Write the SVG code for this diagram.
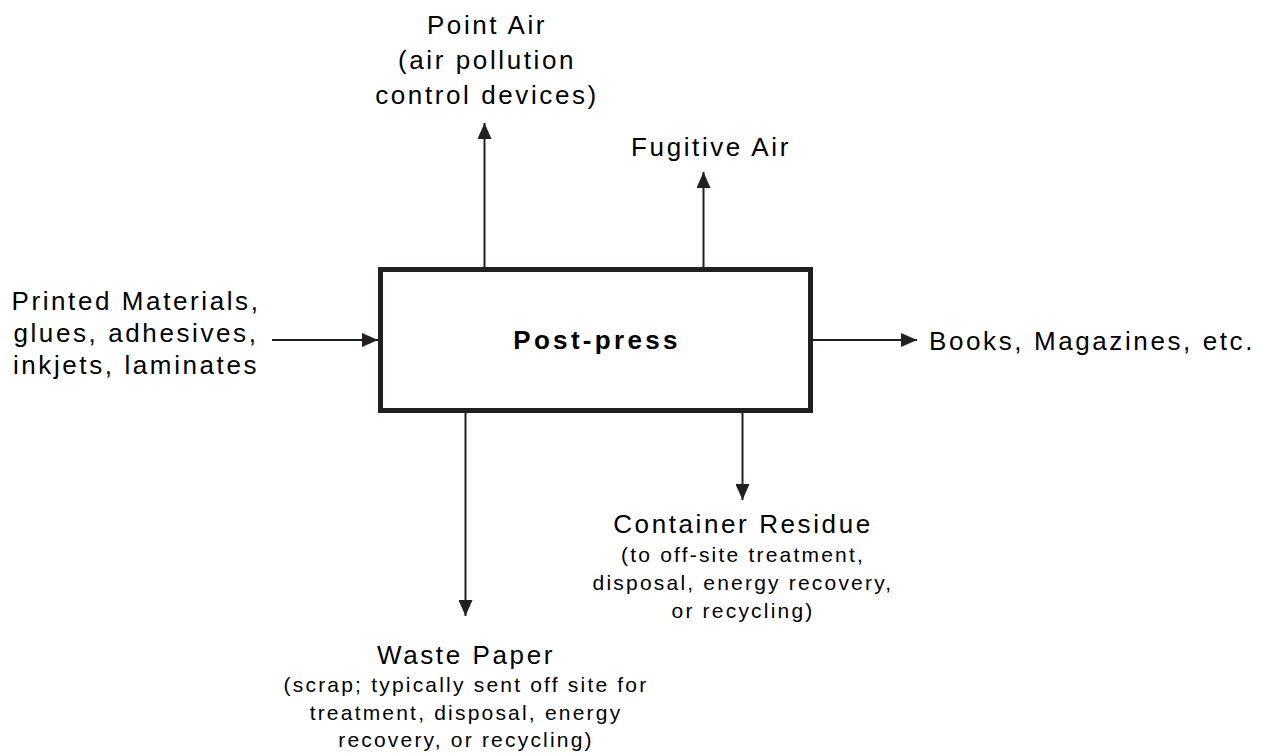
<svg xmlns="http://www.w3.org/2000/svg" width="1270" height="756" viewBox="0 0 1270 756">
<style>
.t{font-family:"Liberation Sans",Arial,sans-serif;font-size:26px;letter-spacing:2.6px;fill:#000;text-anchor:middle}
.s{font-family:"Liberation Sans",Arial,sans-serif;font-size:21px;letter-spacing:2.2px;fill:#000;text-anchor:middle}
.b{font-family:"Liberation Sans",Arial,sans-serif;font-size:26px;font-weight:bold;letter-spacing:3.3px;fill:#000;text-anchor:middle}
.c{stroke:#231f20;stroke-width:2;fill:none}
</style>
<defs>
<marker id="ah" markerWidth="16" markerHeight="14" refX="16" refY="7" orient="auto" markerUnits="userSpaceOnUse">
<path d="M0,0 L16,7 L0,14 Z" fill="#231f20"/>
</marker>
</defs>
<rect width="1270" height="756" fill="#fff"/>
<g id="connectors">
<line class="c" x1="484.5" y1="267" x2="484.5" y2="123" marker-end="url(#ah)"/>
<line class="c" x1="703.5" y1="267" x2="703.5" y2="172" marker-end="url(#ah)"/>
<line class="c" x1="272" y1="340" x2="378" y2="340" marker-end="url(#ah)"/>
<line class="c" x1="813" y1="340" x2="917" y2="340" marker-end="url(#ah)"/>
<line class="c" x1="465.5" y1="413" x2="465.5" y2="616" marker-end="url(#ah)"/>
<line class="c" x1="742.5" y1="413" x2="742.5" y2="500" marker-end="url(#ah)"/>
</g>
<g id="postpress">
<rect x="380.5" y="269.5" width="430" height="141" fill="#fff" stroke="#231f20" stroke-width="5"/>
<text class="b" x="597" y="349">Post-press</text>
</g>
<g id="point-air">
<text class="t" x="487" y="34">Point Air</text>
<text class="t" x="487" y="69">(air pollution</text>
<text class="t" x="487" y="104">control devices)</text>
</g>
<g id="fugitive-air">
<text class="t" x="711" y="156">Fugitive Air</text>
</g>
<g id="inputs">
<text class="t" x="136" y="310">Printed Materials,</text>
<text class="t" x="136" y="342">glues, adhesives,</text>
<text class="t" x="136" y="374">inkjets, laminates</text>
</g>
<g id="products">
<text class="t" x="929" y="350" style="text-anchor:start">Books, Magazines, etc.</text>
</g>
<g id="container-residue">
<text class="t" x="743" y="533">Container Residue</text>
<text class="s" x="743" y="562">(to off-site treatment,</text>
<text class="s" x="743" y="590">disposal, energy recovery,</text>
<text class="s" x="743" y="618">or recycling)</text>
</g>
<g id="waste-paper">
<text class="t" x="466" y="664">Waste Paper</text>
<text class="s" x="466" y="692">(scrap; typically sent off site for</text>
<text class="s" x="466" y="720">treatment, disposal, energy</text>
<text class="s" x="466" y="747">recovery, or recycling)</text>
</g>
</svg>
